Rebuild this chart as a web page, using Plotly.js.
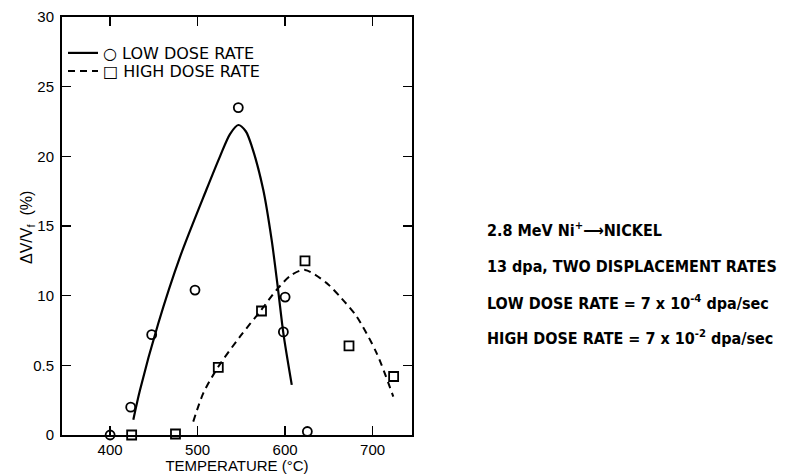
<!DOCTYPE html>
<html>
<head>
<meta charset="utf-8">
<script src="https://cdn.plot.ly/plotly-3.0.1.min.js"></script>
<style>html,body{margin:0;padding:0;background:#fff;}#chart{width:795px;height:474px;}</style>
</head>
<body>
<div id="chart"></div>
<script>
// Measured points
var lowT = [400, 423.5, 447.5, 497, 546.5, 600, 598, 625.4];
var lowV = [0, 2.0, 7.2, 10.4, 23.5, 9.9, 7.4, 0.25];
var highT = [424.6, 474.7, 523.6, 573, 622.7, 673, 724];
var highV = [0, 0.07, 4.86, 8.9, 12.5, 6.4, 4.2];
// Hand-drawn fitted curves
var lowCurveT = [426.5, 434, 455, 480, 510, 525.6, 537, 546.5, 555, 562, 575, 584.6, 592, 598, 607.6];
var lowCurveV = [1.1, 3.2, 8.0, 12.8, 17.6, 20.0, 21.6, 22.25, 21.8, 20.7, 17.6, 14.0, 10.4, 7.3, 3.6];
var highCurveT = [495, 506.5, 523.6, 548.4, 573, 590, 607.5, 622.7, 647.5, 664.6, 681.8, 704.7, 723.6];
var highCurveV = [0.96, 3.0, 4.9, 7.06, 9.0, 10.4, 11.5, 11.85, 10.9, 9.8, 8.5, 5.86, 2.75];
// Axis ticks
var xTickVals = [400, 500, 600, 700];
var xTickText = ['400', '500', '600', '700'];
var yTickVals = [0, 5, 10, 15, 20, 25, 30];
var yTickText = ['0', '0.5', '10', '15', '20', '25', '30'];
var xTitle = 'TEMPERATURE (\u00B0C)';
var yTitle = '\u0394V/V<sub>f</sub>  (%)';
var legendNames = ['\u25CB LOW DOSE RATE', '\u25A1 HIGH DOSE RATE'];
var noteLines = [
  '2.8 MeV Ni<sup>+</sup>\u27F6NICKEL',
  '13 dpa, TWO DISPLACEMENT RATES',
  'LOW DOSE RATE = 7 x 10<sup>-4</sup> dpa/sec',
  'HIGH DOSE RATE = 7 x 10<sup>-2</sup> dpa/sec'
];

var baseFont = {family: 'Liberation Sans, Arial, sans-serif', size: 15, color: '#000'};
var noteFont = {family: 'DejaVu Sans Condensed, Liberation Sans Narrow, sans-serif', size: 16, color: '#000', weight: 'bold'};
var legendFont = {family: 'DejaVu Sans, sans-serif', size: 16, color: '#000'};

var traces = [
  {x: lowCurveT, y: lowCurveV, mode: 'lines', line: {color: '#000', width: 2.2, shape: 'spline', smoothing: 0.8},
   name: legendNames[0], showlegend: true, legend: 'legend', hoverinfo: 'skip'},
  {x: highCurveT, y: highCurveV, mode: 'lines', line: {color: '#000', width: 2, dash: '7px,5px', shape: 'spline', smoothing: 0.8},
   name: legendNames[1], showlegend: true, legend: 'legend2', hoverinfo: 'skip'},
  {x: lowT, y: lowV, mode: 'markers', marker: {symbol: 'circle-open', size: 9, color: '#000', line: {width: 1.8, color: '#000'}},
   showlegend: false, cliponaxis: false},
  {x: highT, y: highV, mode: 'markers', marker: {symbol: 'square-open', size: 9, color: '#000', line: {width: 1.8, color: '#000'}},
   showlegend: false, cliponaxis: false}
];

var yPix = function(p){ return (435 - p) / 418; };
var xPix = function(p){ return (p - 62) / 350; };
var annotations = [];
var centers = [229, 266, 302, 337];
for (var i = 0; i < noteLines.length; i++) {
  annotations.push({xref: 'paper', yref: 'paper', x: xPix(485), y: yPix(centers[i]),
    xanchor: 'left', yanchor: 'middle', showarrow: false, text: noteLines[i], font: noteFont});
}
annotations.push({xref: 'paper', yref: 'paper', x: xPix(27), y: yPix(228), xanchor: 'center', yanchor: 'middle',
  textangle: -90, showarrow: false, text: yTitle, font: {family: 'Liberation Sans, Arial, sans-serif', size: 16, color: '#000'}});

var legendBase = {xanchor: 'left', yanchor: 'top', bgcolor: 'rgba(0,0,0,0)', borderwidth: 0, itemwidth: 30,
  tracegroupgap: 0, font: legendFont};
var legend1 = Object.assign({}, legendBase, {x: xPix(63), y: yPix(36)});
var legend2 = Object.assign({}, legendBase, {x: xPix(63), y: yPix(54)});

var layout = {
  width: 795, height: 474,
  margin: {l: 62, r: 383, t: 17, b: 39},
  paper_bgcolor: '#fff', plot_bgcolor: '#fff',
  font: baseFont,
  showlegend: true,
  legend: legend1,
  legend2: legend2,
  xaxis: {range: [345, 745], tickvals: xTickVals, ticktext: xTickText, ticks: 'inside', ticklen: 9, tickwidth: 1.5,
    tickcolor: '#000', showline: true, linecolor: '#000', linewidth: 2, mirror: 'allticks', showgrid: false, zeroline: false,
    ticklabelstandoff: 0,
    title: {text: xTitle, font: {family: 'Liberation Sans, Arial, sans-serif', size: 15, color: '#000'}, standoff: 0}},
  yaxis: {range: [0, 30], tickvals: yTickVals, ticktext: yTickText, ticks: 'inside', ticklen: 9, tickwidth: 1.5,
    tickcolor: '#000', showline: true, linecolor: '#000', linewidth: 2, mirror: 'allticks', showgrid: false, zeroline: false,
    ticklabelstandoff: 3},
  annotations: annotations
};

Plotly.newPlot('chart', traces, layout, {staticPlot: true, displayModeBar: false});
</script>
</body>
</html>
